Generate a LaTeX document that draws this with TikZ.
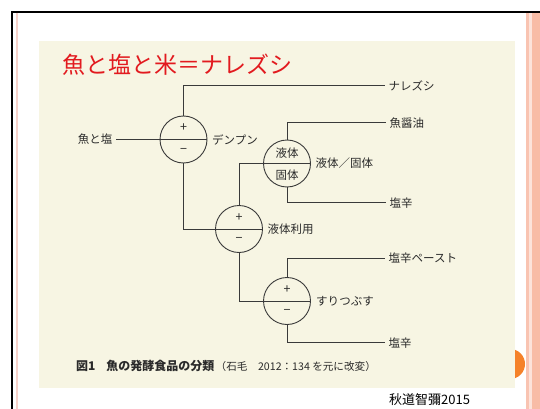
\documentclass[tikz,border=0pt]{standalone}
\usepackage{fontspec}
\setmainfont{Noto Sans CJK JP}
\definecolor{linec}{HTML}{3A3A3A}
\definecolor{textc}{HTML}{2A2A2A}
\definecolor{beige}{HTML}{F7F5E3}
\definecolor{titlered}{HTML}{E21A1F}
\definecolor{pinkl}{HTML}{F7D2CA}
\definecolor{stripeA}{HTML}{F9C4B2}
\definecolor{stripeB}{HTML}{FCE3DA}
\definecolor{stripeC}{HTML}{F8BCA6}
\definecolor{tab}{HTML}{F5822A}
\begin{document}
\begin{tikzpicture}[x=1pt,y=-1pt,
  line/.style={draw=linec, line width=0.9pt},
  sw/.style={circle, draw=linec, line width=0.9pt, minimum size=47pt, inner sep=0pt},
  lbl/.style={font=\fontsize{11.5}{12}\selectfont, text=textc, inner sep=3.5pt},
  sidelbl/.style={lbl, anchor=west, inner sep=4.5pt},
  sign/.style={font=\fontsize{12.5}{12}\selectfont, text=textc, inner sep=0pt},
]
\useasboundingbox (0,0) rectangle (540,409);
\fill[white] (0,0) rectangle (540,409);
% right stripes
\fill[stripeA] (526,12) rectangle (529,409);
\fill[stripeB] (529,12) rectangle (532,409);
\fill[stripeC] (532,12) rectangle (540,409);
% orange tab and picture background
\fill[tab] (510,364) circle (15);
\fill[beige] (39,41) rectangle (515,388);
% frame
\draw[black, line width=1.6pt] (12,409) -- (12,12) -- (540,12);
\draw[pinkl, line width=2.5pt] (17,13) -- (17,409);

% title
\node[anchor=west, text=titlered, font=\fontsize{23}{24}\selectfont, inner sep=0pt] (title) at (62,65) {魚と塩と米＝ナレズシ};

% switch circles
\node[sw] (c1) at (183.5,139.5) {};
\node[sw] (c2) at (287,163.5) {};
\node[sw] (c3) at (239,229) {};
\node[sw] (c4) at (287,301) {};
\foreach \c in {c1,c3,c4}{
  \draw[line] (\c.west) -- (\c.east);
  \node[sign] at ([yshift=11.5pt]\c.center) {+};
  \node[sign] at ([yshift=-11pt]\c.center) {−};
}
\draw[line] (c2.west) -- (c2.east);
\node[lbl] (liq) at (287,153) {液体};
\node[lbl] (sol) at (287,175) {固体};

% side labels
\node[sidelbl] (den) at (c1.east) {デンプン};
\node[sidelbl] (ls) at (c2.east) {液体／固体};
\node[sidelbl] (riyo) at (c3.east) {液体利用};
\node[sidelbl, inner sep=5pt] (suri) at (c4.east) {すりつぶす};

% input
\node[lbl, anchor=east] (fs) at (116,139.5) {魚と塩};
\draw[line] (fs.east) -- (c1.west);

% outputs
\node[lbl, anchor=west] (nare) at (385,85.5) {ナレズシ};
\node[lbl, anchor=west] (gyo) at (386,122.7) {魚醤油};
\node[lbl, anchor=west] (shio1) at (386,202.7) {塩辛};
\node[lbl, anchor=west] (paste) at (385,258.3) {塩辛ペースト};
\node[lbl, anchor=west] (shio2) at (385,342.7) {塩辛};

\draw[line] (c1.north) |- (nare.west);
\draw[line] (c2.north) |- (gyo.west);
\draw[line] (c2.south) |- (shio1.west);
\draw[line] (c4.north) |- (paste.west);
\draw[line] (c4.south) |- (shio2.west);
\draw[line] (c1.south) |- (c3.west);
\draw[line] (c3.north) |- (c2.west);
\draw[line] (c3.south) |- (c4.west);

% caption
\node[anchor=west, text=textc, font=\fontsize{12}{12}\selectfont\bfseries, inner sep=0pt] (cap) at (76,366) {図1\hspace{0.9em}魚の発酵食品の分類};
\node[anchor=west, text=textc, font=\fontsize{10.6}{12}\selectfont, inner sep=0pt] (src) at ([xshift=1pt]cap.east) {（石毛　2012：134 を元に改変）};

% credit
\node[anchor=west, text=black, font=\fontsize{13}{14}\selectfont, inner sep=0pt] (cred) at (389,400) {秋道智彌2015};
\end{tikzpicture}
\end{document}
